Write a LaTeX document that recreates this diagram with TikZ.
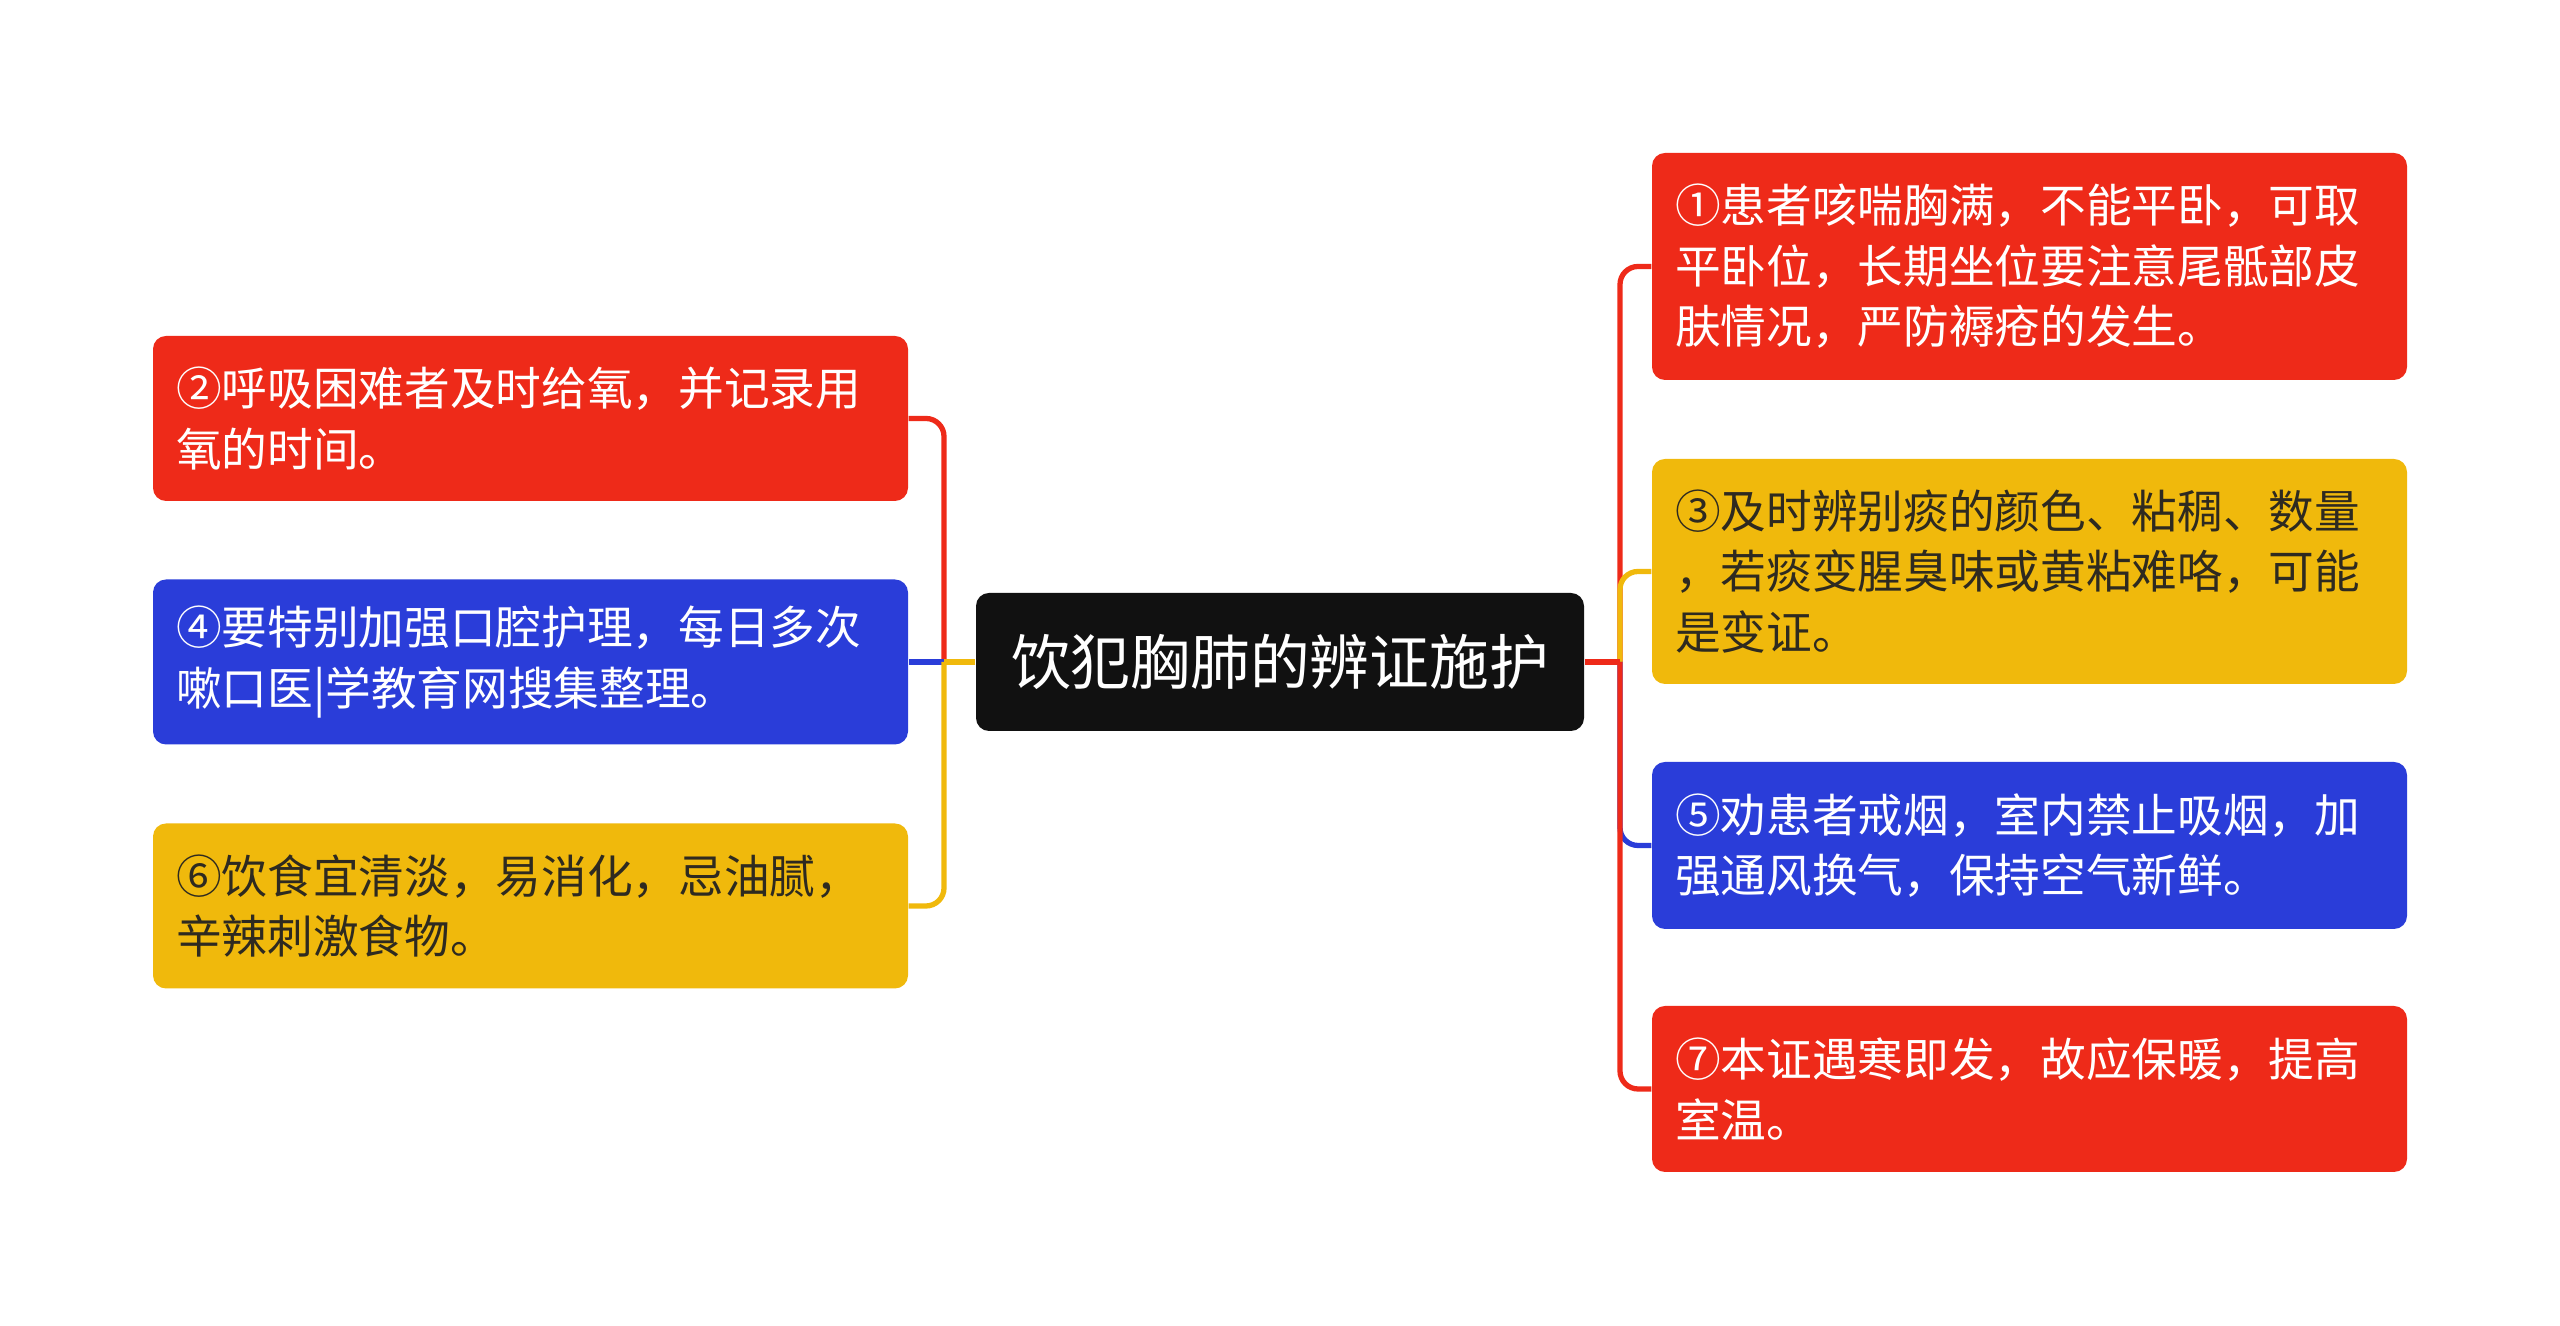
\documentclass[tikz,border=0pt]{standalone}
\usepackage{fontspec}
\setmainfont{Noto Sans CJK SC}
\usepackage{tikz}
\usepackage{xcolor}
\definecolor{mapred}{HTML}{EE2A19}
\definecolor{mapblue}{HTML}{2A3DD9}
\definecolor{mapyellow}{HTML}{F0B90C}
\definecolor{mapblack}{HTML}{111111}
\definecolor{maptext}{HTML}{2E2A20}

\begin{document}
\begin{tikzpicture}[
  topic/.style={rounded corners=0.13cm, fill=mapblack, text=white, minimum width=6.08cm,
    minimum height=1.38cm, font=\fontsize{17}{20}\selectfont},
  item/.style={rounded corners=0.13cm, text width=7.09cm, inner xsep=0.23cm,
    align=left, font=\fontsize{13}{17.2}\selectfont},
  link/.style={line width=1.5pt, rounded corners=0.18cm}
]
  \useasboundingbox (0,0) rectangle (25.6,13.26);
  % central topic
  \node[topic] (root) at (12.80,6.64) {饮犯胸肺的辨证施护};
  % left branches
  \node[item, fill=mapred, text=white, minimum height=1.65cm] (n2) at (5.305,9.075)
    {②呼吸困难者及时给氧，并记录用\\氧的时间。};
  \node[item, fill=mapblue, text=white, minimum height=1.65cm] (n4) at (5.305,6.64)
    {④要特别加强口腔护理，每日多次\\嗽口医|学教育网搜集整理。};
  \node[item, fill=mapyellow, text=maptext, minimum height=1.65cm] (n6) at (5.305,4.20)
    {⑥饮食宜清淡，易消化，忌油腻，\\辛辣刺激食物。};
  % right branches
  \node[item, fill=mapred, text=white, minimum height=2.27cm] (n1) at (20.295,10.595)
    {①患者咳喘胸满，不能平卧，可取\\平卧位，长期坐位要注意尾骶部皮\\肤情况，严防褥疮的发生。};
  \node[item, fill=mapyellow, text=maptext, minimum height=2.25cm] (n3) at (20.295,7.545)
    {③及时辨别痰的颜色、粘稠、数量\\，若痰变腥臭味或黄粘难咯，可能\\是变证。};
  \node[item, fill=mapblue, text=white, minimum height=1.67cm] (n5) at (20.295,4.805)
    {⑤劝患者戒烟，室内禁止吸烟，加\\强通风换气，保持空气新鲜。};
  \node[item, fill=mapred, text=white, minimum height=1.66cm] (n7) at (20.295,2.37)
    {⑦本证遇寒即发，故应保暖，提高\\室温。};
  % connectors
  \coordinate (lj) at (9.44,6.64);
  \coordinate (rj) at (16.20,6.64);
  \draw[link, mapred] (lj) |- (n2.east);
  \draw[link, mapblue] (lj) -- (n4.east);
  \draw[link, mapyellow] (lj) |- (n6.east);
  \draw[link, mapyellow] (root.west) -- (lj);
  \draw[link, mapred] (rj) |- (n1.west);
  \draw[link, mapyellow] (rj) |- (n3.west);
  \draw[link, mapblue] (rj) |- (n5.west);
  \draw[link, mapred] (rj) |- (n7.west);
  \draw[link, mapred] (root.east) -- (rj);
\end{tikzpicture}
\end{document}
